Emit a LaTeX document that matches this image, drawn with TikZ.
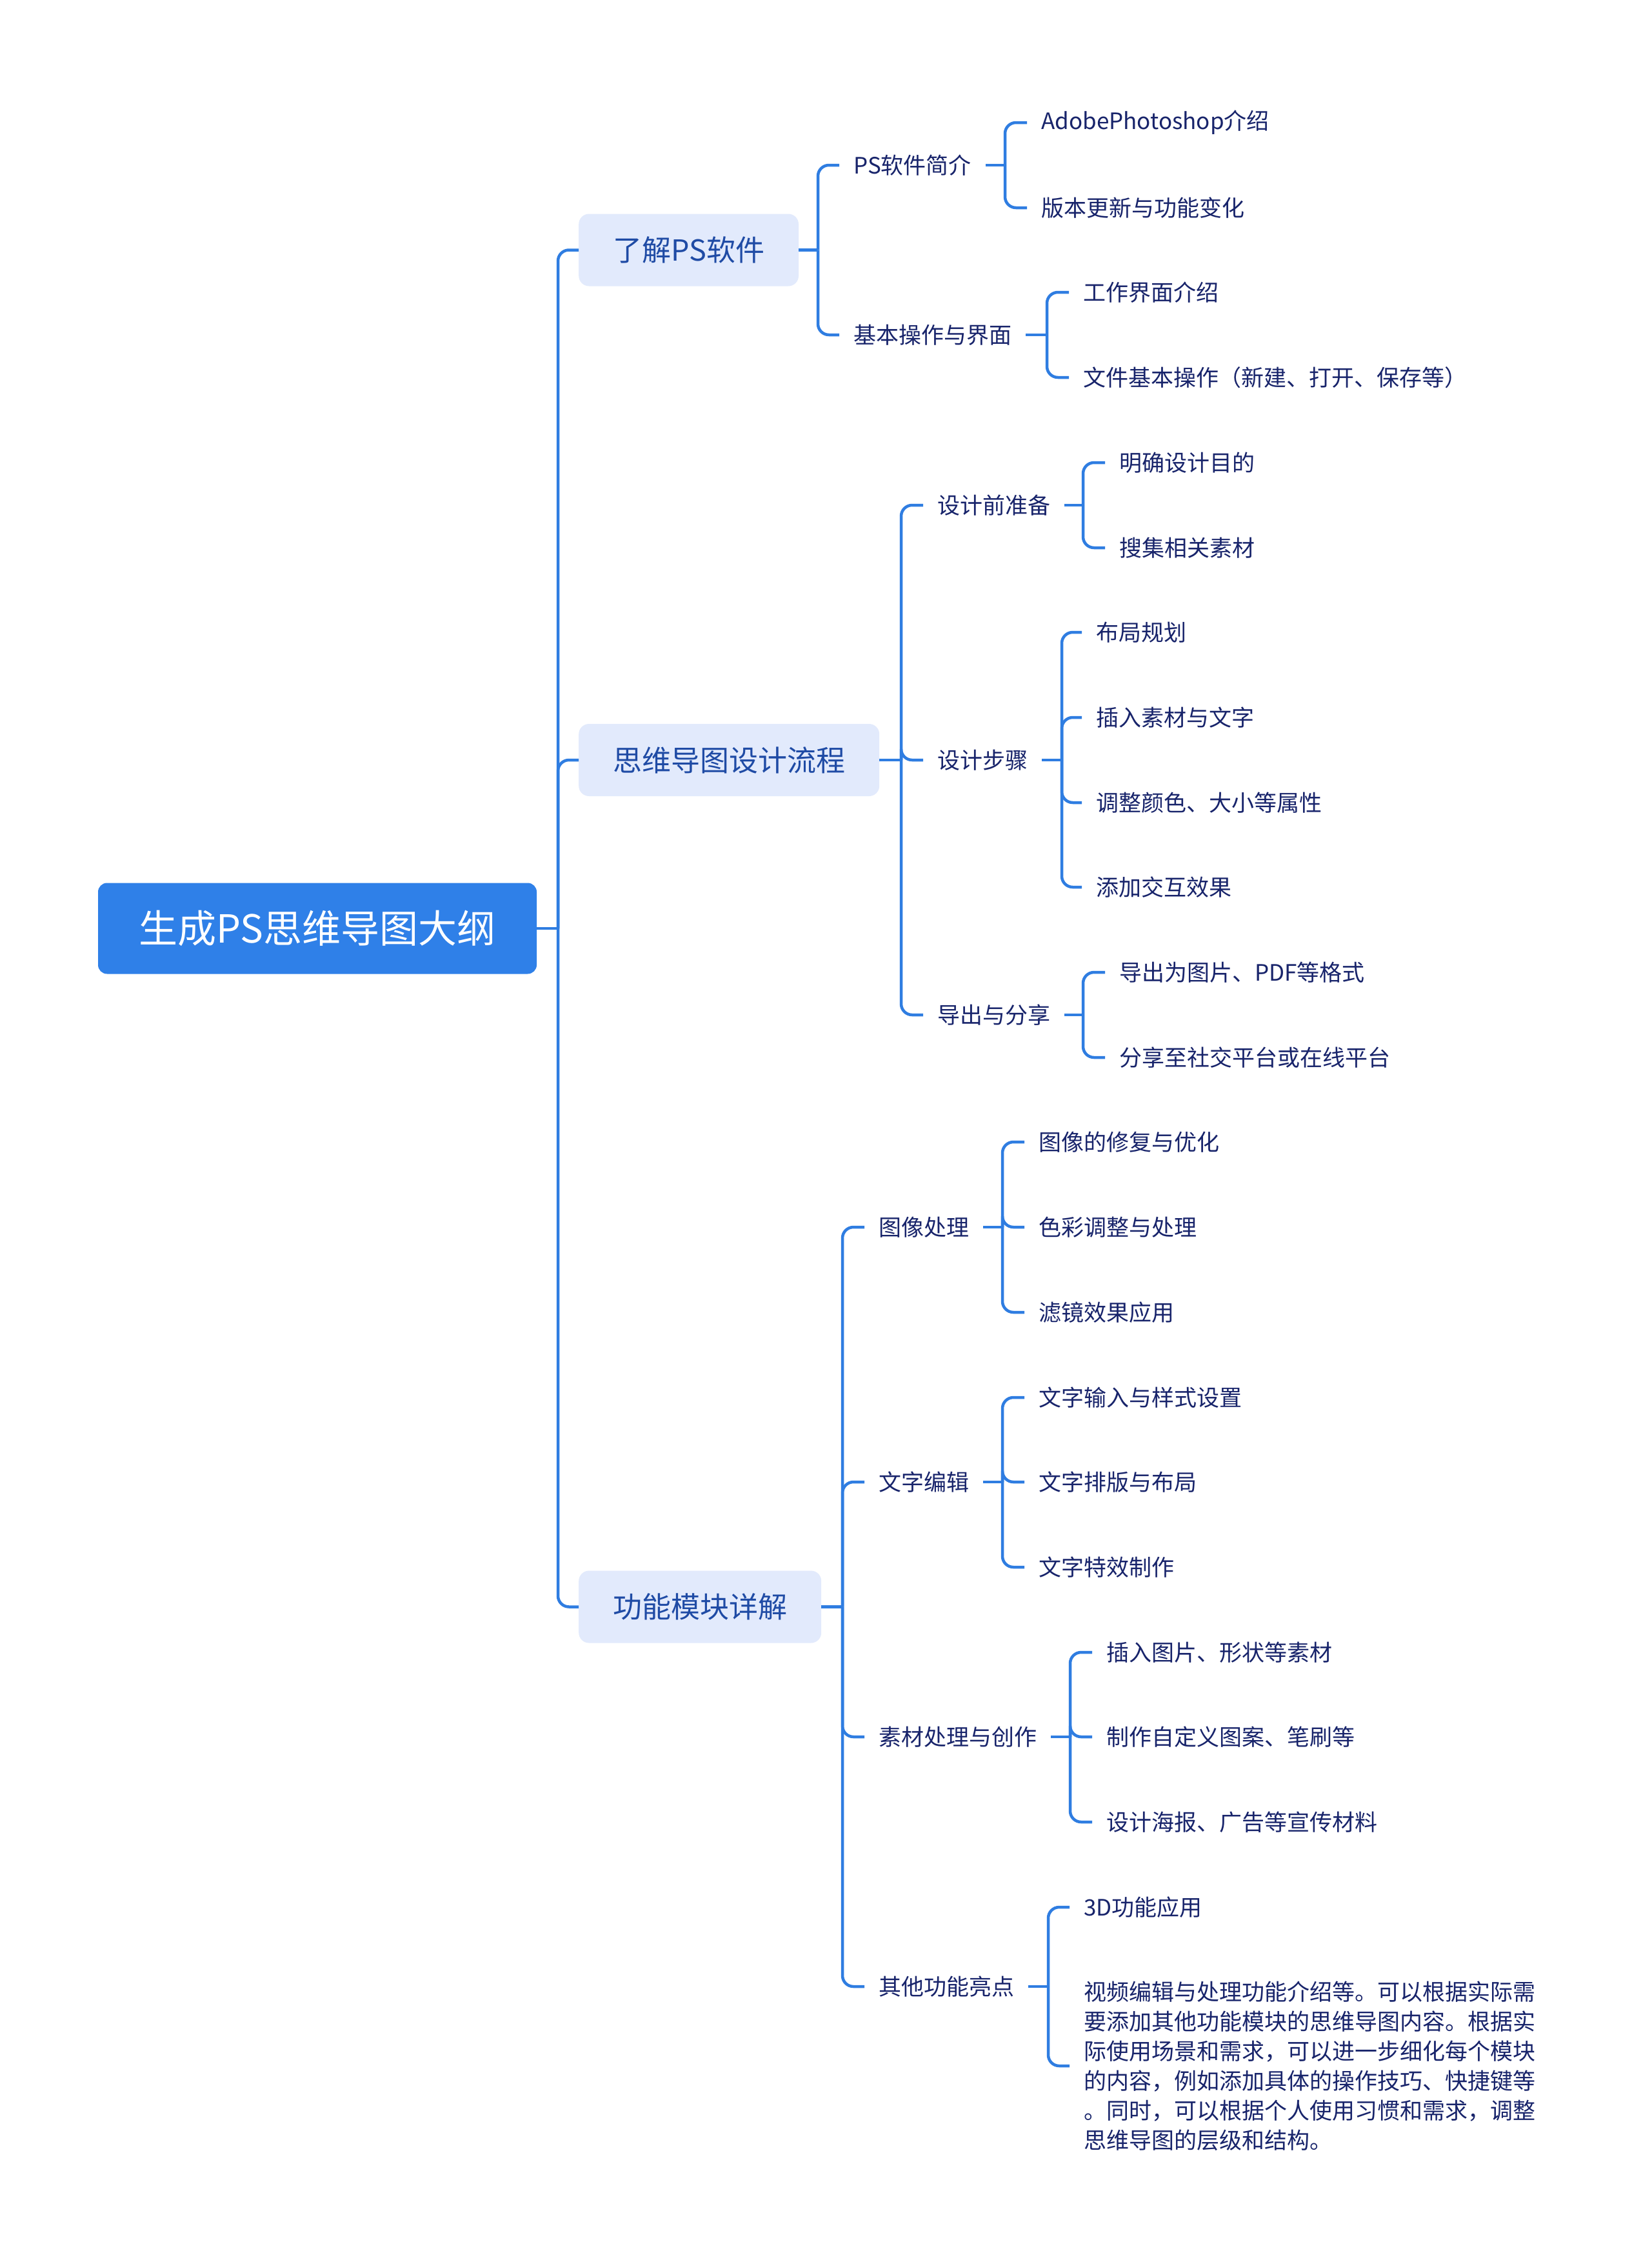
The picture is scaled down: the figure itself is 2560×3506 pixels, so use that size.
\documentclass[tikz,border=0pt]{standalone}
\usepackage{fontspec}
\setmainfont{Noto Sans CJK SC}
\definecolor{lineblue}{HTML}{2F7DE1}
\definecolor{rootblue}{HTML}{2F80E8}
\definecolor{lonefill}{HTML}{E2EAFC}
\definecolor{lonetext}{HTML}{1F4BA5}
\definecolor{leaftext}{HTML}{18246B}
\tikzset{
  conn/.style={draw=lineblue, line width=4.5pt, rounded corners=17pt},
  rootbox/.style={fill=rootblue, rounded corners=14pt, minimum width=680pt, minimum height=141pt,
    text=white, font={\fontsize{60pt}{72pt}\selectfont}, inner sep=0pt},
  lonebox/.style={fill=lonefill, rounded corners=16pt, minimum height=112pt, inner xsep=53pt,
    anchor=west, text=lonetext, font={\fontsize{45pt}{54pt}\selectfont}},
  txt/.style={anchor=west, inner xsep=22pt, inner ysep=4pt, text=leaftext,
    font={\fontsize{35pt}{46pt}\selectfont}},
}
\begin{document}
\begin{tikzpicture}[x=1pt,y=-1pt]
\useasboundingbox (0,0) rectangle (2560,3506);
\fill[white] (0,0) rectangle (2560,3506);

% root and level 1
\node[rootbox] (root) at (492,1439) {生成PS思维导图大纲};
\node[lonebox] (A) at (897,387.5) {了解PS软件};
\node[lonebox] (B) at (897,1178) {思维导图设计流程};
\node[lonebox] (C) at (897,2490.5) {功能模块详解};

% level 2
\node[txt] (a1) at (1301,256) {PS软件简介};
\node[txt] (a2) at (1301,519) {基本操作与界面};
\node[txt] (b1) at (1431,783) {设计前准备};
\node[txt] (b2) at (1431,1178) {设计步骤};
\node[txt] (b3) at (1431,1573) {导出与分享};
\node[txt] (c1) at (1340,1902) {图像处理};
\node[txt] (c2) at (1340,2297) {文字编辑};
\node[txt] (c3) at (1340,2692) {素材处理与创作};
\node[txt] (c4) at (1340,3079) {其他功能亮点};

% leaves
\node[txt] (a11) at (1592,190) {AdobePhotoshop介绍};
\node[txt] (a12) at (1592,322) {版本更新与功能变化};
\node[txt] (a21) at (1657,453) {工作界面介绍};
\node[txt] (a22) at (1657,585) {文件基本操作（新建、打开、保存等）};
\node[txt] (b11) at (1713,717) {明确设计目的};
\node[txt] (b12) at (1713,849) {搜集相关素材};
\node[txt] (b21) at (1677,980) {布局规划};
\node[txt] (b22) at (1677,1112) {插入素材与文字};
\node[txt] (b23) at (1677,1244) {调整颜色、大小等属性};
\node[txt] (b24) at (1677,1375) {添加交互效果};
\node[txt] (b31) at (1713,1507) {导出为图片、PDF等格式};
\node[txt] (b32) at (1713,1639) {分享至社交平台或在线平台};
\node[txt] (c11) at (1588,1770) {图像的修复与优化};
\node[txt] (c12) at (1588,1902) {色彩调整与处理};
\node[txt] (c13) at (1588,2034) {滤镜效果应用};
\node[txt] (c21) at (1588,2166) {文字输入与样式设置};
\node[txt] (c22) at (1588,2297) {文字排版与布局};
\node[txt] (c23) at (1588,2429) {文字特效制作};
\node[txt] (c31) at (1693,2561) {插入图片、形状等素材};
\node[txt] (c32) at (1693,2692) {制作自定义图案、笔刷等};
\node[txt] (c33) at (1693,2824) {设计海报、广告等宣传材料};
\node[txt] (c41) at (1658,2956) {3D功能应用};
\node[txt, align=left] (c42) at (1658,3202) {视频编辑与处理功能介绍等。可以根据实际需\\要添加其他功能模块的思维导图内容。根据实\\际使用场景和需求，可以进一步细化每个模块\\的内容，例如添加具体的操作技巧、快捷键等\\。同时，可以根据个人使用习惯和需求，调整\\思维导图的层级和结构。};

% junction coordinates
\coordinate (vR) at (865,1439);
\coordinate (vA) at (1268,387.5);
\coordinate (vB) at (1397,1178);
\coordinate (vC) at (1306,2490.5);
\coordinate (va1) at (1558,256);
\coordinate (va2) at (1623,519);
\coordinate (vb1) at (1679,783);
\coordinate (vb2) at (1646,1178);
\coordinate (vb3) at (1679,1573);
\coordinate (vc1) at (1554,1902);
\coordinate (vc2) at (1554,2297);
\coordinate (vc3) at (1659,2692);
\coordinate (vc4) at (1625,3079);

% connectors
\draw[conn] (root.east) -- (vR);
\foreach \c in {A,B,C} \draw[conn] (vR) |- (\c.west);

\draw[conn] (A.east) -- (vA);
\foreach \c in {a1,a2} \draw[conn] (vA) |- (\c.west);
\draw[conn] (B.east) -- (vB);
\foreach \c in {b1,b2,b3} \draw[conn] (vB) |- (\c.west);
\draw[conn] (C.east) -- (vC);
\foreach \c in {c1,c2,c3,c4} \draw[conn] (vC) |- (\c.west);

\draw[conn] (a1.east) -- (va1);
\foreach \c in {a11,a12} \draw[conn] (va1) |- (\c.west);
\draw[conn] (a2.east) -- (va2);
\foreach \c in {a21,a22} \draw[conn] (va2) |- (\c.west);
\draw[conn] (b1.east) -- (vb1);
\foreach \c in {b11,b12} \draw[conn] (vb1) |- (\c.west);
\draw[conn] (b2.east) -- (vb2);
\foreach \c in {b21,b22,b23,b24} \draw[conn] (vb2) |- (\c.west);
\draw[conn] (b3.east) -- (vb3);
\foreach \c in {b31,b32} \draw[conn] (vb3) |- (\c.west);
\draw[conn] (c1.east) -- (vc1);
\foreach \c in {c11,c12,c13} \draw[conn] (vc1) |- (\c.west);
\draw[conn] (c2.east) -- (vc2);
\foreach \c in {c21,c22,c23} \draw[conn] (vc2) |- (\c.west);
\draw[conn] (c3.east) -- (vc3);
\foreach \c in {c31,c32,c33} \draw[conn] (vc3) |- (\c.west);
\draw[conn] (c4.east) -- (vc4);
\foreach \c in {c41,c42} \draw[conn] (vc4) |- (\c.west);
\end{tikzpicture}
\end{document}
